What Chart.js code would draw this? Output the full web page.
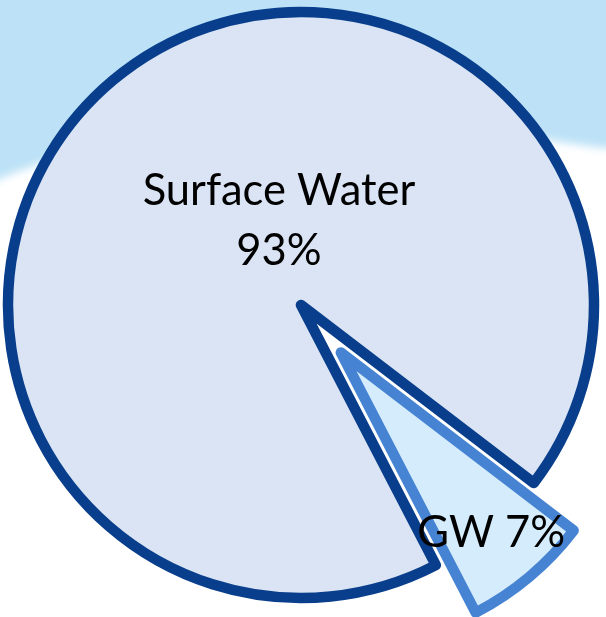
<!DOCTYPE html>
<html>
<head>
<meta charset="utf-8">
<script src="https://cdn.jsdelivr.net/npm/chart.js@4/dist/chart.umd.min.js"></script>
<style>
  html, body { margin: 0; padding: 0; background: #ffffff; }
  #wrap { width: 606px; height: 617px; position: relative; }
</style>
</head>
<body>
<div id="wrap"><canvas id="c" width="606" height="617"></canvas></div>
<script>
// Water supply sources (percent of total)
const categories = ['Surface Water', 'GW'];
const shares = [93, 7];
const fillColors = ['#DAE4F4', '#D5ECFC'];
const edgeColors = ['#083E8B', '#4684D3'];

// Label text built from the data: first slice on two lines, second on one
const labelLines = [
  [categories[0], shares[0] + '%'],
  [categories[1] + ' ' + shares[1] + '%']
];

// Sky backdrop with a soft white cloud bank behind the pie
const skyBackdrop = {
  id: 'skyBackdrop',
  beforeDraw(chart) {
    const { ctx, width, height } = chart;
    ctx.save();
    ctx.fillStyle = '#BDE2F7';
    ctx.fillRect(0, 0, width, height);
    ctx.filter = 'blur(4px)';
    ctx.fillStyle = '#FFFFFF';
    ctx.beginPath();
    ctx.moveTo(-20, 188);
    ctx.bezierCurveTo(120, 120, 380, 95, 520, 134);
    ctx.quadraticCurveTo(570, 146, 630, 150);
    ctx.lineTo(630, height + 20);
    ctx.lineTo(-20, height + 20);
    ctx.closePath();
    ctx.fill();
    ctx.restore();
  }
};

// Pull selected slices outward along their bisector
const explodeSlices = {
  id: 'explodeSlices',
  afterDatasetsUpdate(chart, args, opts) {
    const meta = chart.getDatasetMeta(0);
    meta.data.forEach((arc, i) => {
      const d = (opts.distances || [])[i] || 0;
      if (!d) return;
      const mid = (arc.startAngle + arc.endAngle) / 2;
      arc.x += Math.cos(mid) * d;
      arc.y += Math.sin(mid) * d;
    });
  }
};

// Category / percentage text placed inside each slice
const sliceLabels = {
  id: 'sliceLabels',
  afterDatasetsDraw(chart, args, opts) {
    const { ctx } = chart;
    const meta = chart.getDatasetMeta(0);
    ctx.save();
    ctx.font = opts.fontSize + 'px ' + opts.fontFamily;
    ctx.fillStyle = opts.color;
    ctx.textAlign = 'center';
    ctx.textBaseline = 'alphabetic';
    const capH = opts.fontSize * opts.capRatio;
    meta.data.forEach((arc, i) => {
      const place = opts.placement[i];
      const ang = place.angle != null
        ? (place.angle - 90) * Math.PI / 180
        : (arc.startAngle + arc.endAngle) / 2;
      const cx = arc.x + Math.cos(ang) * place.dist;
      const cy = arc.y + Math.sin(ang) * place.dist;
      const lines = labelLines[i];
      lines.forEach((t, k) => {
        const y = cy + (k - (lines.length - 1) / 2) * opts.lineHeight + capH / 2;
        ctx.fillText(t, cx, y);
      });
    });
    ctx.restore();
  }
};

new Chart(document.getElementById('c'), {
  type: 'pie',
  data: {
    labels: categories,
    datasets: [{
      data: shares,
      backgroundColor: fillColors,
      borderColor: edgeColors,
      borderWidth: 10.5,
      borderJoinStyle: 'round',
      radius: 293
    }]
  },
  options: {
    responsive: false,
    animation: false,
    events: [],
    rotation: 152.6,
    layout: { padding: { left: 0, right: 4, top: 0, bottom: 7 } },
    plugins: {
      legend: { display: false },
      tooltip: { enabled: false },
      explodeSlices: { distances: [0, 62] },
      sliceLabels: {
        fontFamily: 'Lato, "Open Sans", sans-serif',
        fontSize: 43.5,
        capRatio: 0.72,
        lineHeight: 60,
        color: '#000000',
        placement: [
          { angle: 345.5, dist: 88 },
          { angle: null, dist: 234 }
        ]
      }
    }
  },
  plugins: [skyBackdrop, explodeSlices, sliceLabels]
});
</script>
</body>
</html>
